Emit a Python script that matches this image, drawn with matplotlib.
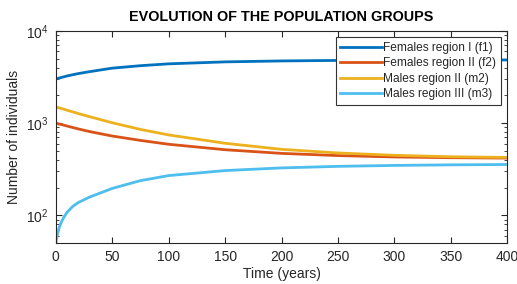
import matplotlib.pyplot as plt
import numpy as np

plt.rcParams['font.family'] = ['Liberation Sans', 'DejaVu Sans']

years = [0, 1, 2, 3, 5, 7, 10, 15, 20, 30, 50, 75, 100, 150, 200, 250, 300, 350, 400]
f1 = [3000, 3030, 3060, 3090, 3130, 3180, 3250, 3350, 3450, 3620, 3950, 4200, 4400, 4620, 4730, 4790, 4820, 4840, 4850]
f2 = [1000, 992, 985, 978, 965, 952, 930, 897, 865, 810, 725, 650, 590, 515, 470, 445, 430, 422, 418]
m2 = [1500, 1488, 1475, 1462, 1440, 1418, 1380, 1325, 1270, 1175, 1010, 855, 745, 605, 520, 475, 448, 432, 425]
m3 = [50, 59, 67, 74, 85, 95, 108, 125, 138, 158, 196, 238, 270, 306, 327, 340, 348, 353, 356]

labels = ['Females region I (f1)', 'Females region II (f2)',
          'Males region II (m2)', 'Males region III (m3)']
colors = ['#0072BD', '#D95319', '#EDB120', '#4DBEEE']
txt = '#262626'

fig = plt.figure(figsize=(5.17, 2.84), dpi=100)
ax = fig.add_axes([0.108, 0.144, 0.873, 0.747])

for series, lab, c in zip([f1, f2, m2, m3], labels, colors):
    ax.plot(years, series, color=c, lw=2, label=lab)

ax.set_yscale('log')
ax.set_xlim(0, 400)
ax.set_ylim(50, 1e4)
ax.set_xticks(np.arange(0, 401, 50))
ax.tick_params(which='both', direction='in', top=True, right=True, labelsize=10,
               colors=txt, pad=5)
ax.tick_params(which='major', length=4)
ax.tick_params(which='minor', length=2)
for s in ax.spines.values():
    s.set_color(txt)
    s.set_linewidth(0.8)
ax.set_xlabel('Time (years)', fontsize=10, color=txt, labelpad=2)
ax.set_ylabel('Number of individuals', fontsize=10, color=txt, labelpad=4)
ax.set_title('EVOLUTION OF THE POPULATION GROUPS', fontsize=10.4, fontweight='bold', pad=7)

leg = ax.legend(loc='upper right', fontsize=8.6, handlelength=3.5, handletextpad=0.1,
                borderpad=0.4, labelspacing=0.3, fancybox=False, framealpha=1,
                borderaxespad=0.5)
leg.get_frame().set_edgecolor('#333333')
leg.get_frame().set_linewidth(0.8)
for t in leg.get_texts():
    t.set_color(txt)

fig.savefig('out.png', dpi=100)
